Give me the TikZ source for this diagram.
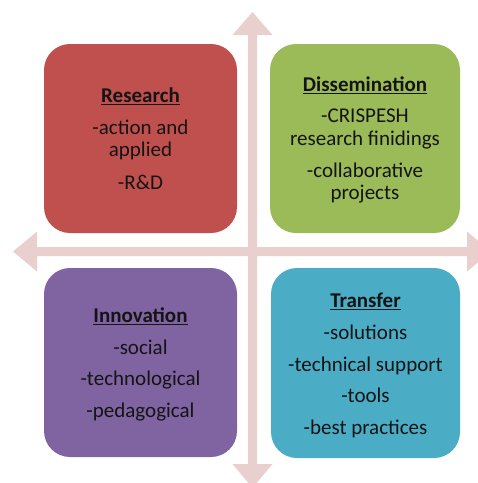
\documentclass[tikz,border=0pt]{standalone}
\usepackage{fontspec}
\setmainfont{Carlito}
\definecolor{arrowpink}{HTML}{EACFCF}
\definecolor{cred}{HTML}{C0504D}
\definecolor{cgreen}{HTML}{9BBB59}
\definecolor{cpurple}{HTML}{8064A2}
\definecolor{cteal}{HTML}{4BACC6}
\definecolor{textdark}{HTML}{141414}
\newcommand\boxtitle[1]{\underline{\textbf{#1}}}
\begin{document}
\begin{tikzpicture}[x=1pt,y=-1pt,
  quad/.style={rounded corners=26pt},
  quadtext/.style={align=center,font=\fontsize{21}{22.5}\selectfont,text=textdark,inner sep=0pt},
  arrowshape/.style={fill=arrowpink,draw=none}]
\useasboundingbox (0,0) rectangle (478,483);
\begin{scope}
\clip (0,0) rectangle (478,483);
% vertical double arrow
\fill[arrowpink] (252.5,12) -- (272.5,35) -- (257,35) -- (257,464) -- (272.5,464) -- (252.5,488)
  -- (232.5,464) -- (248,464) -- (248,35) -- (232.5,35) -- cycle;
% horizontal double arrow
\fill[arrowpink] (13,251.5) -- (37,231.5) -- (37,247) -- (467,247) -- (467,231.5) -- (491,251.5)
  -- (467,271.5) -- (467,256) -- (37,256) -- (37,271.5) -- cycle;
\end{scope}
% quadrant boxes
\fill[cred,quad] (44,44) rectangle (237,233);
\fill[cgreen,quad] (270,44) rectangle (460,233);
\fill[cpurple,quad] (44,268) rectangle (237,457);
\fill[cteal,quad] (271,268) rectangle (460,458);
% texts
\node[quadtext] (research) at (140.5,138.5) {\boxtitle{Research}\\[9.5pt]-action and\\applied\\[10pt]-R\&D};
\node[quadtext] (dissemination) at (365,140) {\boxtitle{Dissemination}\\[8.5pt]-CRISPESH\\research finidings\\[9.5pt]-collaborative\\projects};
\node[quadtext] (innovation) at (140.5,364.5) {\boxtitle{Innovation}\\[9pt]-social\\[9pt]-technological\\[9pt]-pedagogical};
\node[quadtext] (transfer) at (365.5,365.5) {\boxtitle{Transfer}\\[9.5pt]-solutions\\[9pt]-technical support\\[9pt]-tools\\[9pt]-best practices};
\end{tikzpicture}
\end{document}
